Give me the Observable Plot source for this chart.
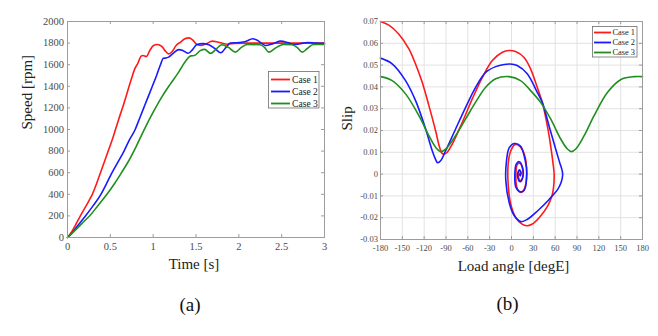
<!DOCTYPE html>
<html><head><meta charset="utf-8">
<script src="https://cdn.jsdelivr.net/npm/d3@7"></script>
<script src="https://cdn.jsdelivr.net/npm/@observablehq/plot@0.6"></script>
<style>
body{margin:0;background:#fff;}
#wrap{position:relative;width:658px;height:336px;overflow:hidden;font-family:"Liberation Serif","Times New Roman",serif;}
.fig{position:absolute;top:0;}
#ov{position:absolute;left:0;top:0;pointer-events:none;}
</style></head><body><div id="wrap"></div><script>
const cases = ["Case 1", "Case 2", "Case 3"];
const colors = ["#ff1a1a", "#1a1aff", "#1f8f1f"];

// (a) Speed [rpm] vs Time [s]
const speedCase1 = [[0,0],[0.05,55],[0.1,125],[0.15,200],[0.2,270],[0.25,340],[0.29,400],[0.34,500],[0.385,600],[0.43,700],[0.475,800],[0.52,900],[0.56,1000],[0.6,1100],[0.65,1220],[0.7,1350],[0.75,1480],[0.79,1570],[0.82,1610],[0.86,1680],[0.88,1685],[0.92,1675],[0.96,1730],[1.0,1775],[1.05,1787],[1.1,1770],[1.15,1720],[1.18,1700],[1.22,1720],[1.27,1780],[1.32,1810],[1.37,1840],[1.42,1848],[1.46,1830],[1.51,1787],[1.56,1778],[1.62,1795],[1.69,1818],[1.76,1808],[1.86,1790],[1.95,1797],[2.1,1800],[2.5,1800],[3.0,1800]];
const speedCase2 = [[0,0],[0.05,40],[0.1,90],[0.15,140],[0.21,200],[0.3,295],[0.39,400],[0.45,490],[0.52,600],[0.59,700],[0.66,800],[0.72,900],[0.79,1000],[0.84,1100],[0.89,1200],[0.94,1300],[0.99,1400],[1.04,1500],[1.085,1600],[1.12,1660],[1.15,1662],[1.18,1670],[1.24,1710],[1.3,1740],[1.35,1730],[1.41,1706],[1.46,1740],[1.51,1787],[1.58,1795],[1.65,1785],[1.72,1750],[1.79,1710],[1.85,1760],[1.9,1800],[2.0,1805],[2.08,1815],[2.16,1840],[2.22,1825],[2.31,1778],[2.4,1795],[2.49,1818],[2.57,1805],[2.64,1787],[2.72,1795],[2.8,1806],[2.9,1800],[3.0,1797]];
const speedCase3 = [[0,0],[0.1,75],[0.2,155],[0.27,210],[0.35,290],[0.46,400],[0.55,500],[0.63,600],[0.7,690],[0.8,840],[0.89,990],[1.0,1160],[1.1,1300],[1.2,1420],[1.28,1510],[1.32,1560],[1.38,1635],[1.44,1682],[1.48,1685],[1.55,1730],[1.6,1742],[1.67,1705],[1.73,1740],[1.8,1785],[1.88,1760],[1.96,1716],[2.03,1760],[2.1,1787],[2.25,1785],[2.3,1760],[2.35,1716],[2.42,1750],[2.52,1787],[2.62,1785],[2.68,1760],[2.74,1716],[2.8,1750],[2.87,1787],[3.0,1787]];
const timeTicks = [0, 0.5, 1, 1.5, 2, 2.5, 3];
const speedTicks = [0, 200, 400, 600, 800, 1000, 1200, 1400, 1600, 1800, 2000];

// (b) Slip vs Load angle [degE]
const slipCase1 = [[-180,0.070],[-168,0.0682],[-155,0.0643],[-141,0.0574],[-132,0.0506],[-122.7,0.0421],[-113.5,0.0314],[-104.3,0.0199],[-99,0.0125],[-95.5,0.0095],[-92,0.0092],[-88.3,0.0100],[-81.4,0.0138],[-67.6,0.0238],[-53.9,0.0345],[-40,0.0444],[-26.3,0.0521],[-12.5,0.0559],[-3.5,0.0567],[5.5,0.0562],[17,0.0536],[26.2,0.0483],[35.4,0.0398],[42.3,0.0329],[49.2,0.0222],[53.8,0.013],[57.5,0.0038],[58.6,0],[57.8,-0.006],[56,-0.0095],[50,-0.0145],[38,-0.0200],[28,-0.0230],[21,-0.0237],[14,-0.0228],[6,-0.020],[-1,-0.0138],[-4.6,-0.0046],[-4.6,0.0046],[-1,0.0107],[4.6,0.0135],[10.6,0.013],[17.5,0.0092],[20.8,0],[17.5,-0.0069],[12.9,-0.0084],[8.3,-0.0069],[6,0],[8.3,0.0046],[11.5,0.005],[15.2,0.0023],[15.2,-0.0015],[12,-0.003],[9.7,-0.0015],[10.6,0.0015],[12.9,0.0008],[12,-0.0003]];
const slipCase2 = [[-180,0.0532],[-164,0.0506],[-145.6,0.0429],[-131.8,0.0337],[-118,0.0207],[-108.9,0.0107],[-104,0.0065],[-101.5,0.0052],[-97.4,0.0061],[-90.5,0.0107],[-76.8,0.0207],[-63,0.0306],[-49.3,0.0398],[-35.5,0.0467],[-21.7,0.0493],[-10,0.0503],[-2,0.0505],[7.8,0.0498],[21.6,0.046],[35.4,0.0375],[42.3,0.0329],[51.5,0.0222],[60.7,0.0115],[66,0.0055],[69.7,0.0015],[70.3,-0.0005],[68,-0.004],[63.7,-0.0069],[52,-0.0115],[36,-0.0168],[22,-0.0207],[13,-0.0218],[3.7,-0.019],[-3.2,-0.013],[-7.8,-0.003],[-6.9,0.006],[-3.2,0.012],[3.7,0.014],[12,0.013],[19,0.006],[21,0],[17.5,-0.0074],[12,-0.0081],[6,-0.006],[4.6,0],[6.5,0.0046],[10.6,0.0057],[15.2,0.003],[15.5,-0.0015],[12,-0.0035],[9,-0.002],[9,0.001],[11,0.002],[13,0.0005],[12,-0.0008],[11,0]];
const slipCase3 = [[-180,0.0447],[-164,0.0429],[-145.6,0.0368],[-127.2,0.0268],[-113.5,0.0176],[-104.3,0.0123],[-97.4,0.0103],[-90.5,0.0115],[-76.8,0.0176],[-63,0.0253],[-49.3,0.033],[-35.5,0.0398],[-21.7,0.0437],[-3.3,0.0447],[12.4,0.0429],[26.2,0.0383],[40,0.0329],[53.8,0.0253],[67.6,0.0161],[76.8,0.0115],[82.4,0.0103],[88.3,0.0115],[99.8,0.0176],[113.5,0.0268],[132,0.0375],[150.4,0.0434],[168.9,0.0447],[180,0.0447]];
const angleTicks = [-180, -150, -120, -90, -60, -30, 0, 30, 60, 90, 120, 150, 180];
const slipTicks = [-0.03, -0.02, -0.01, 0, 0.01, 0.02, 0.03, 0.04, 0.05, 0.06, 0.07];

const speedData = cases.flatMap((c, i) => [speedCase1, speedCase2, speedCase3][i].map(([t, v]) => ({case: c, t, v})));
const slipData = cases.flatMap((c, i) => [slipCase1, slipCase2, slipCase3][i].map(([a, s]) => ({case: c, a, s})));

const font = '"Liberation Serif","Times New Roman",serif';
const frameCol = "#9c9c9c";
const tickCol = "#4a4a4a";
const fmt = d => String(d);

function innerTicks(xt, yt, fw, fh, len) {
  return [
    Plot.tickX(xt, {x: d => d, stroke: frameCol, insetTop: fh - len}),
    Plot.tickX(xt, {x: d => d, stroke: frameCol, insetBottom: fh - len}),
    Plot.tickY(yt, {y: d => d, stroke: frameCol, insetRight: fw - len}),
    Plot.tickY(yt, {y: d => d, stroke: frameCol, insetLeft: fw - len})
  ];
}

// Left chart
const L = {w: 330, h: 336, ml: 67, mr: 6, mt: 21, mb: 99};
const LFW = L.w - L.ml - L.mr, LFH = L.h - L.mt - L.mb;
const left = Plot.plot({
  width: L.w, height: L.h, marginLeft: L.ml, marginRight: L.mr, marginTop: L.mt, marginBottom: L.mb,
  style: {fontFamily: font, background: "transparent"},
  x: {domain: [0, 3]},
  y: {domain: [0, 2000]},
  color: {domain: cases, range: colors},
  marks: [
    ...innerTicks(timeTicks, speedTicks, LFW, LFH, 3),
    Plot.line(speedData, {x: "t", y: "v", stroke: "case", strokeWidth: 1.6, curve: "monotone-x"}),
    Plot.frame({stroke: frameCol}),
    Plot.axisX(timeTicks, {tickSize: 0, tickPadding: 5, fontSize: 10.5, fill: tickCol, label: null, tickFormat: fmt}),
    Plot.axisY(speedTicks, {tickSize: 0, tickPadding: 3.5, fontSize: 10.5, fill: tickCol, label: null, tickFormat: fmt}),
    Plot.text(["Time [s]"], {frameAnchor: "bottom", dy: 31, dx: -2, fontSize: 15, fill: "#222"}),
    Plot.text(["Speed [rpm]"], {frameAnchor: "left", dx: -40, rotate: -90, fontSize: 15, fill: "#222"}),
    Plot.text(["(a)"], {frameAnchor: "bottom", dy: 73, dx: -6, fontSize: 19, fill: "#111"})
  ]
});
left.classList.add("fig"); left.style.left = "0px";

// Right chart
const R = {w: 328, h: 336, ml: 50, mr: 16, mt: 21, mb: 97};
const RFW = R.w - R.ml - R.mr, RFH = R.h - R.mt - R.mb;
const right = Plot.plot({
  width: R.w, height: R.h, marginLeft: R.ml, marginRight: R.mr, marginTop: R.mt, marginBottom: R.mb,
  style: {fontFamily: font, background: "transparent"},
  x: {domain: [-180, 180]},
  y: {domain: [-0.03, 0.07]},
  color: {domain: cases, range: colors},
  marks: [
    Plot.gridX(angleTicks, {stroke: "#e2e2e2", strokeOpacity: 1}),
    Plot.gridY(slipTicks, {stroke: "#e2e2e2", strokeOpacity: 1}),
    ...innerTicks(angleTicks, slipTicks, RFW, RFH, 3),
    Plot.line(slipData, {x: "a", y: "s", z: "case", stroke: "case", strokeWidth: 1.6, curve: "catmull-rom"}),
    Plot.frame({stroke: frameCol}),
    Plot.axisX(angleTicks, {tickSize: 0, tickPadding: 5, fontSize: 8.5, fill: tickCol, label: null, tickFormat: fmt}),
    Plot.axisY(slipTicks, {tickSize: 0, tickPadding: 2.5, fontSize: 8.5, fill: tickCol, label: null, tickFormat: fmt}),
    Plot.text(["Load angle [degE]"], {frameAnchor: "bottom", dy: 31, dx: 2, fontSize: 15, fill: "#222"}),
    Plot.text(["Slip"], {frameAnchor: "left", dx: -33, rotate: -90, fontSize: 15, fill: "#222"}),
    Plot.text(["(b)"], {frameAnchor: "bottom", dy: 70.5, dx: -4, fontSize: 19, fill: "#111"})
  ]
});
right.classList.add("fig"); right.style.left = "330px";

const wrap = document.getElementById("wrap");
wrap.appendChild(left);
wrap.appendChild(right);

// Legends overlay
const ov = d3.select(wrap).append("svg").attr("id", "ov").attr("width", 658).attr("height", 336);
function legend(box, rowY0, rowH, lx0, lx1, tx, fs) {
  const g = ov.append("g");
  g.append("rect").attr("x", box[0]).attr("y", box[1]).attr("width", box[2]).attr("height", box[3])
    .attr("fill", "#fff").attr("stroke", "#6e6e6e").attr("stroke-width", 0.8);
  cases.forEach((c, i) => {
    const y = rowY0 + i * rowH;
    g.append("line").attr("x1", lx0).attr("x2", lx1).attr("y1", y).attr("y2", y)
      .attr("stroke", colors[i]).attr("stroke-width", 1.8);
    g.append("text").attr("x", tx).attr("y", y).attr("dy", "0.35em").attr("font-size", fs)
      .attr("font-family", font).attr("fill", "#222").text(c);
  });
}
legend([268.5, 71.5, 50.5, 36.5], 79.5, 12, 271, 290, 292, 9.6);
legend([592.5, 26.5, 44.5, 30.5], 32.5, 10, 594, 611, 612.5, 8.4);
</script></body></html>
